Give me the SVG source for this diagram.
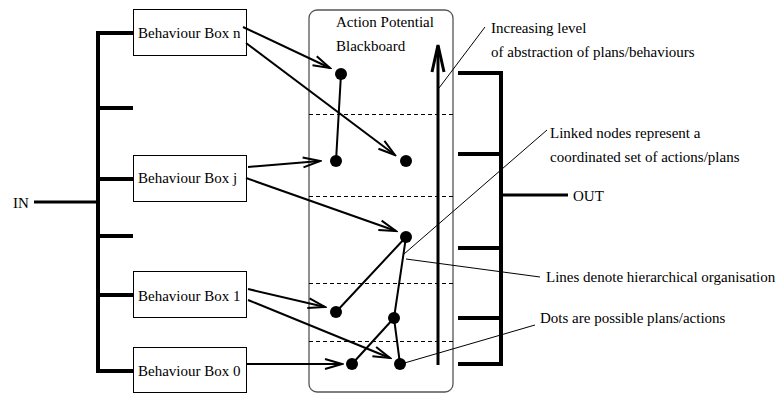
<svg xmlns="http://www.w3.org/2000/svg" width="778" height="394" viewBox="0 0 778 394">
<style>
text{font-family:"Liberation Serif","Times New Roman",serif;font-size:15px;fill:#000}
.box{fill:#fff;stroke:#000;stroke-width:1}
.bus{stroke:#000;stroke-width:4;fill:none;stroke-linecap:butt}
.thin{stroke:#000;stroke-width:1;fill:none}
.link{stroke:#000;stroke-width:2;fill:none}
.arr{stroke:#000;stroke-width:2;fill:none;marker-end:url(#ah)}
.dash{stroke:#000;stroke-width:1;stroke-dasharray:4 3;fill:none}
.dot{fill:#000}
</style>
<defs>
<marker id="ah" viewBox="-20 -8 22 16" markerWidth="22" markerHeight="16" refX="0" refY="0" orient="auto" markerUnits="userSpaceOnUse">
<path d="M-17,-5 L0,0 L-17,5" fill="none" stroke="#000" stroke-width="2"/>
</marker>
</defs>
<g id="input-bus">
<path class="bus" d="M133,33 H98 V371 H133 M98,108 H133 M98,179 H133 M98,236 H133 M98,295 H133"/>
<path d="M34,202 H98" stroke="#000" stroke-width="3"/>
<text x="13" y="208">IN</text>
</g>
<g id="box-n"><rect class="box" x="133.5" y="9.5" width="113" height="46"/><text x="138" y="38">Behaviour Box n</text></g>
<g id="box-j"><rect class="box" x="133.5" y="155.5" width="113" height="46"/><text x="138" y="183">Behaviour Box j</text></g>
<g id="box-1"><rect class="box" x="133.5" y="271.5" width="113" height="46"/><text x="138" y="301">Behaviour Box 1</text></g>
<g id="box-0"><rect class="box" x="133.5" y="347.5" width="113" height="45"/><text x="138" y="376">Behaviour Box 0</text></g>
<g id="blackboard">
<rect x="309" y="10" width="144" height="382" rx="8" ry="8" fill="none" stroke="#555" stroke-width="1.3"/>
<text x="336" y="27">Action Potential</text>
<text x="336" y="51">Blackboard</text>
<path class="dash" d="M309,114.5 H453 M309,196.5 H453 M309,283.5 H453 M309,341.5 H453"/>
<path d="M438,365 V46" stroke="#000" stroke-width="3"/>
<path d="M432,72 L438,45 L444,72" fill="none" stroke="#000" stroke-width="3"/>
</g>
<g id="output-bus">
<path class="bus" d="M458,73 H501 V364 H458 M458,154 H501 M458,248 H501 M458,318 H501"/>
<path d="M501,195 H568" stroke="#000" stroke-width="3"/>
<text x="573" y="201">OUT</text>
</g>
<g id="connectors">
<path class="link" d="M341,74 L336,161 M406,237 L336,312 M406,237 L394,318 L352,364 M394,318 L400,364"/>
<path class="arr" d="M243,27 L330,68"/>
<path class="arr" d="M246,43 L395,155"/>
<path class="arr" d="M248,167 L320,161"/>
<path class="arr" d="M246,178 L396,231"/>
<path class="arr" d="M248,289 L325,307"/>
<path class="arr" d="M248,300 L390,358"/>
<path class="arr" d="M246,364 L342,364"/>
<path class="thin" d="M439,88 L485,27 M404,254 L547,130 M406,259 L540,277 M401,364 L535,325"/>
</g>
<g id="dots">
<circle class="dot" cx="341" cy="74" r="6"/>
<circle class="dot" cx="336" cy="161" r="6"/>
<circle class="dot" cx="406" cy="161" r="6"/>
<circle class="dot" cx="406" cy="237" r="6"/>
<circle class="dot" cx="336" cy="312" r="6"/>
<circle class="dot" cx="394" cy="318" r="6"/>
<circle class="dot" cx="352" cy="364" r="6"/>
<circle class="dot" cx="400" cy="364" r="6"/>
</g>
<g id="annotations">
<text x="491" y="33">Increasing level</text>
<text x="491" y="57">of abstraction of plans/behaviours</text>
<text x="550" y="138">Linked nodes represent a</text>
<text x="550" y="162">coordinated set of actions/plans</text>
<text x="546" y="282">Lines denote hierarchical organisation</text>
<text x="540" y="323">Dots are possible plans/actions</text>
</g>
</svg>
